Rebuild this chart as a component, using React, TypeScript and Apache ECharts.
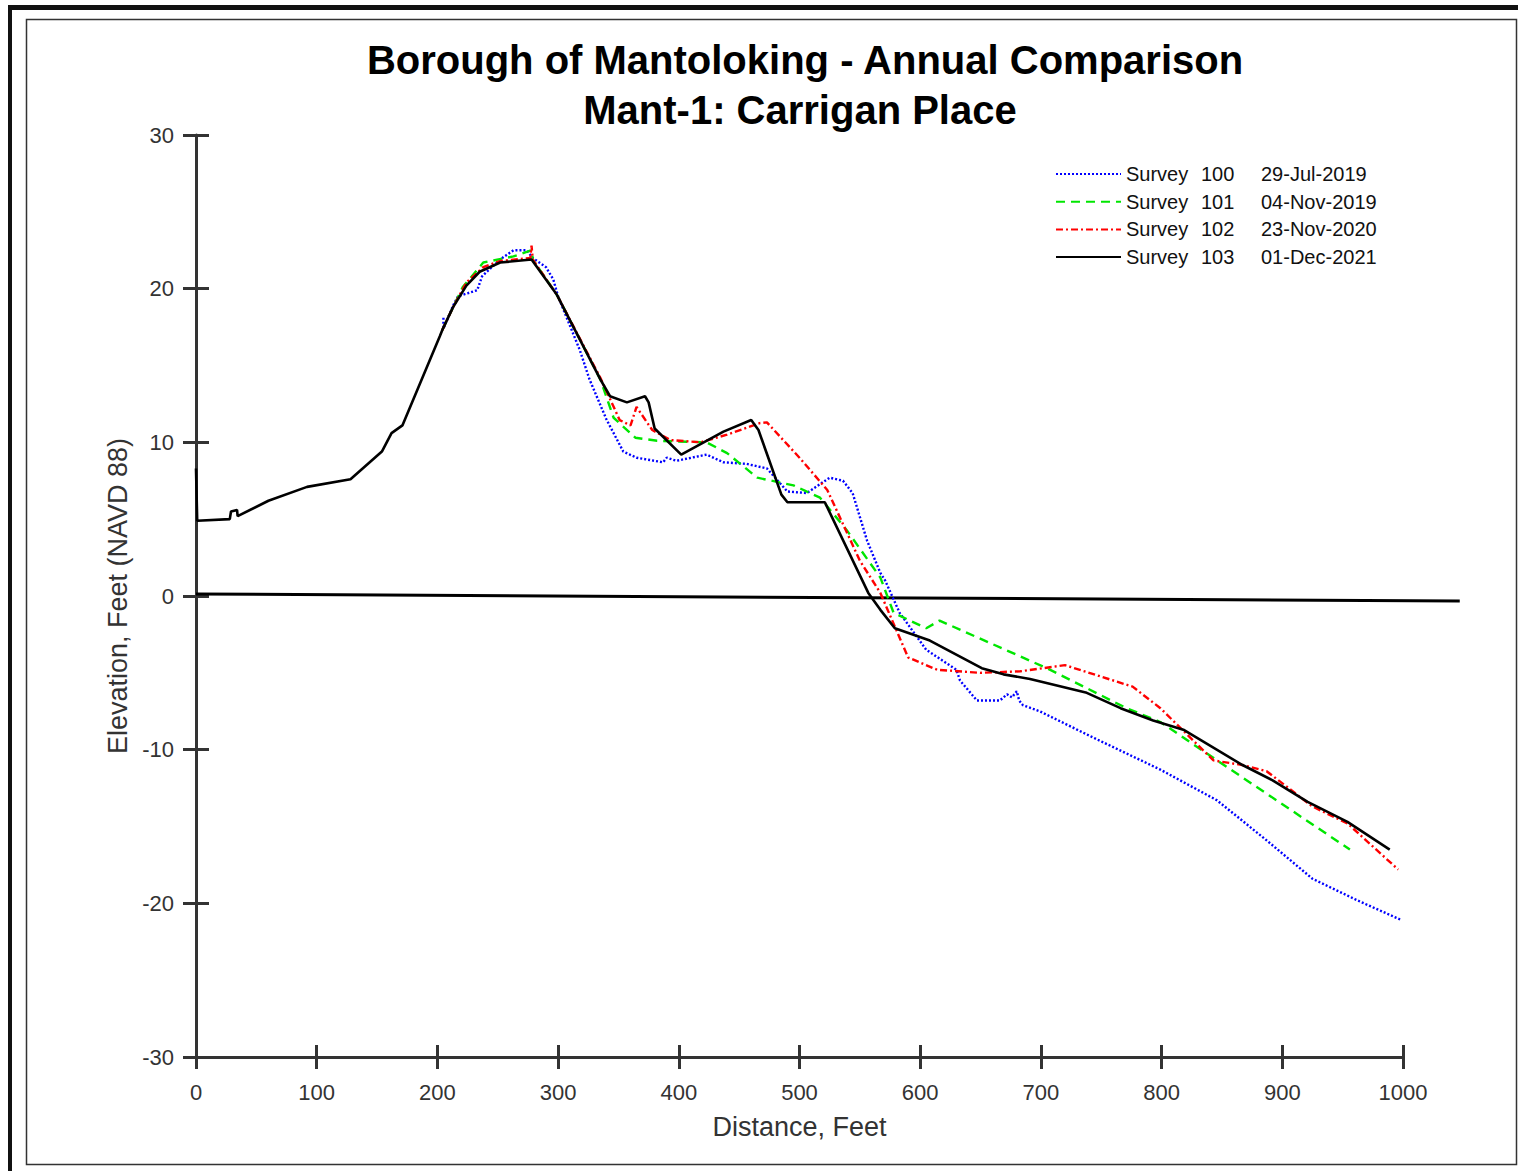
import React, { useEffect, useRef } from "react";
import * as echarts from "echarts";

const FONT = "'Liberation Sans', Arial, Helvetica, sans-serif";

const titleLines = ["Borough of Mantoloking - Annual Comparison", "Mant-1: Carrigan Place"];
const xTitle = "Distance, Feet";
const yTitle = "Elevation, Feet (NAVD 88)";

const surveyNames = ["Survey 100", "Survey 101", "Survey 102", "Survey 103"];
const surveyDates = ["29-Jul-2019", "04-Nov-2019", "23-Nov-2020", "01-Dec-2021"];

// Survey 100 (blue dotted)
const s100x = [205, 205, 213, 217, 225, 233, 237, 245, 252, 263, 274, 279, 290, 296, 300, 318, 326, 340, 354, 365, 387, 390, 398, 423, 437, 456, 473, 490, 506, 525, 536, 544, 556, 567, 571, 583, 605, 630, 633, 647, 666, 672, 676, 680, 682, 685, 699, 743, 799, 846, 887, 925, 962, 999];
const s100y = [18.1, 17.4, 18.9, 19.5, 19.7, 19.9, 20.8, 21.4, 21.9, 22.5, 22.5, 22.0, 21.4, 20.6, 19.5, 16.0, 14.1, 11.5, 9.4, 9.0, 8.7, 9.0, 8.8, 9.2, 8.7, 8.6, 8.3, 6.8, 6.7, 7.7, 7.5, 6.7, 3.6, 1.5, 1.0, -1.1, -3.5, -4.8, -5.5, -6.8, -6.8, -6.4, -6.6, -6.2, -6.8, -7.1, -7.5, -9.2, -11.3, -13.3, -15.9, -18.4, -19.8, -21.1];

// Survey 101 (green dashed)
const s101x = [204, 213, 221, 238, 263, 278, 279, 299, 335, 346, 364, 382, 423, 440, 465, 495, 517, 539, 567, 578, 605, 616, 705, 771, 799, 846, 956];
const s101y = [17.3, 18.8, 20.1, 21.7, 22.1, 22.5, 21.9, 19.6, 14.1, 11.6, 10.3, 10.1, 10.0, 9.3, 7.7, 7.2, 6.4, 4.3, 1.2, -1.1, -2.1, -1.6, -4.7, -7.3, -8.2, -10.7, -16.5];

// Survey 102 (red dash-dot)
const s102x = [204, 213, 224, 238, 252, 277, 278, 279, 299, 335, 351, 360, 365, 378, 393, 418, 440, 467, 473, 500, 523, 550, 567, 590, 614, 650, 683, 720, 776, 799, 843, 867, 887, 925, 954, 996];
const s102y = [17.3, 18.8, 20.4, 21.4, 21.8, 22.0, 22.8, 21.9, 19.6, 14.2, 11.45, 11.1, 12.3, 10.8, 10.15, 10.0, 10.5, 11.25, 11.3, 9.0, 6.9, 2.3, 0.2, -4.0, -4.8, -5.0, -4.9, -4.5, -5.9, -7.3, -10.7, -11.0, -11.4, -13.7, -14.8, -17.8];

// Survey 103 (black solid)
const s103x = [0, 1, 28, 29, 34, 34.5, 60, 92, 128, 154, 162, 171, 202, 204, 213, 224, 235, 252, 278, 299, 335, 343, 357, 372, 375, 380, 402, 437, 460, 466, 485, 490, 521, 557, 567, 579, 608, 651, 669, 691, 738, 766, 793, 818, 867, 892, 921, 954, 989];
const s103y = [8.3, 4.9, 5.0, 5.5, 5.6, 5.2, 6.2, 7.1, 7.6, 9.4, 10.6, 11.1, 16.9, 17.3, 18.8, 20.2, 21.1, 21.7, 21.9, 19.6, 14.1, 13.0, 12.6, 13.0, 12.6, 10.9, 9.2, 10.7, 11.45, 10.8, 6.6, 6.1, 6.1, 0.2, -0.9, -2.1, -2.9, -4.7, -5.1, -5.4, -6.3, -7.3, -8.1, -8.7, -11.0, -12.0, -13.4, -14.7, -16.5];

// reference (water) line, extends past the last tick
const refX = [0, 1047];
const refY = [0.13, -0.33];

const xMin = 0, xMax = 1000, xStep = 100;
const xMaxExt = 1050;
const yMin = -30, yMax = 30, yStep = 10;

const zip = (xs: number[], ys: number[]) => xs.map((x, i) => [x, ys[i]]);

export default function App() {
  const ref = useRef<HTMLDivElement>(null);
  useEffect(() => {
    document.body.style.margin = "0";
    document.body.style.overflow = "hidden";
    const chart = echarts.init(ref.current!, null, { renderer: "svg" });
    const axisColor = "#333";
    const left = 196, top = 135, bottom = 114;
    const plotW = 1403 - 196;
    const right0 = 1518 - 1403;
    const right1 = 1518 - (left + plotW * (xMaxExt - xMin) / (xMax - xMin));
    const baseX = {
      type: "value", min: xMin, max: xMax, interval: xStep, position: "bottom",
      splitLine: { show: false }, gridIndex: 0,
    };
    const baseY = {
      type: "value", min: yMin, max: yMax, interval: yStep, position: "left",
      splitLine: { show: false }, gridIndex: 0,
    };
    const lineSeries = (name: string, xs: number[], ys: number[], color: string, type: any, width: number, z: number) => ({
      name, type: "line", data: zip(xs, ys), symbol: "none", showSymbol: false,
      xAxisIndex: 0, yAxisIndex: 0,
      lineStyle: { color, type, width }, itemStyle: { color }, z,
    });
    chart.setOption({
      animation: false,
      backgroundColor: "#fff",
      title: [
        {
          text: titleLines[0], left: 800, top: 35, textAlign: "center",
          textStyle: { fontFamily: FONT, fontSize: 40, fontWeight: "bold", color: "#000" },
        },
        {
          text: titleLines[1], left: 795, top: 85, textAlign: "center",
          textStyle: { fontFamily: FONT, fontSize: 40, fontWeight: "bold", color: "#000" },
        },
      ],
      grid: [
        { left, right: right0, top, bottom, containLabel: false },
        { left, right: right1, top, bottom, containLabel: false },
      ],
      xAxis: [
        {
          ...baseX,
          name: xTitle, nameLocation: "middle", nameGap: 56,
          nameTextStyle: { fontFamily: FONT, fontSize: 27, color: "#333" },
          axisLine: { show: true, onZero: false, lineStyle: { color: axisColor, width: 3 } },
          axisTick: { show: true, inside: false, length: 12, lineStyle: { color: axisColor, width: 3 } },
          axisLabel: { fontFamily: FONT, fontSize: 22, color: "#333", margin: 24, formatter: (v: number) => String(v) },
        },
        {
          ...baseX,
          axisLine: { show: false, onZero: false },
          axisTick: { show: true, inside: true, length: 12, lineStyle: { color: axisColor, width: 3 } },
          axisLabel: { show: false },
        },
        {
          type: "value", min: xMin, max: xMaxExt, gridIndex: 1, show: false,
          axisLine: { onZero: false },
        },
      ],
      yAxis: [
        {
          ...baseY,
          name: yTitle, nameLocation: "middle", nameGap: 61,
          nameTextStyle: { fontFamily: FONT, fontSize: 27, color: "#333" },
          axisLine: { show: true, onZero: false, lineStyle: { color: axisColor, width: 3 } },
          axisTick: { show: true, inside: false, length: 13, lineStyle: { color: axisColor, width: 3 } },
          axisLabel: { fontFamily: FONT, fontSize: 22, color: "#333", margin: 22 },
        },
        {
          ...baseY,
          axisLine: { show: false, onZero: false },
          axisTick: { show: true, inside: true, length: 13, lineStyle: { color: axisColor, width: 3 } },
          axisLabel: { show: false },
        },
        {
          type: "value", min: yMin, max: yMax, gridIndex: 1, show: false,
          axisLine: { onZero: false },
        },
      ],
      legend: {
        data: surveyNames,
        orient: "vertical", left: 1050, top: 159,
        itemWidth: 65, itemHeight: 20, itemGap: 7.7,
        itemStyle: { opacity: 0 },
        formatter: (name: string) => {
          const i = surveyNames.indexOf(name);
          const parts = name.split(" ");
          return `{a|${parts[0]}}{n|${parts[1]}}{b|${surveyDates[i]}}`;
        },
        textStyle: {
          fontFamily: FONT, fontSize: 20, color: "#111",
          rich: {
            a: { fontFamily: FONT, fontSize: 20, color: "#111", width: 75 },
            n: { fontFamily: FONT, fontSize: 20, color: "#111", width: 60 },
            b: { fontFamily: FONT, fontSize: 20, color: "#111" },
          },
        },
      },
      graphic: [
        { type: "rect", shape: { x: 8, y: 5, width: 1510, height: 5 }, style: { fill: "#111" }, silent: true },
        { type: "rect", shape: { x: 8, y: 5, width: 4, height: 1166 }, style: { fill: "#111" }, silent: true },
        { type: "rect", shape: { x: 26.5, y: 19.5, width: 1490, height: 1145 }, style: { fill: "none", stroke: "#333", lineWidth: 1.5 }, silent: true },
      ],
      series: [
        {
          name: "ref", type: "line", data: zip(refX, refY), symbol: "none",
          xAxisIndex: 2, yAxisIndex: 2,
          lineStyle: { color: "#000", width: 3 }, z: 1,
        },
        lineSeries(surveyNames[0], s100x, s100y, "#0000ff", [2, 2], 2.4, 2),
        lineSeries(surveyNames[1], s101x, s101y, "#00e600", [9, 6], 2.4, 3),
        lineSeries(surveyNames[2], s102x, s102y, "#ff0000", [7, 3, 2, 3], 2.4, 4),
        lineSeries(surveyNames[3], s103x, s103y, "#000000", "solid", 2.6, 5),
      ],
    });
    return () => chart.dispose();
  }, []);
  return <div ref={ref} style={{ width: 1518, height: 1171 }} />;
}
